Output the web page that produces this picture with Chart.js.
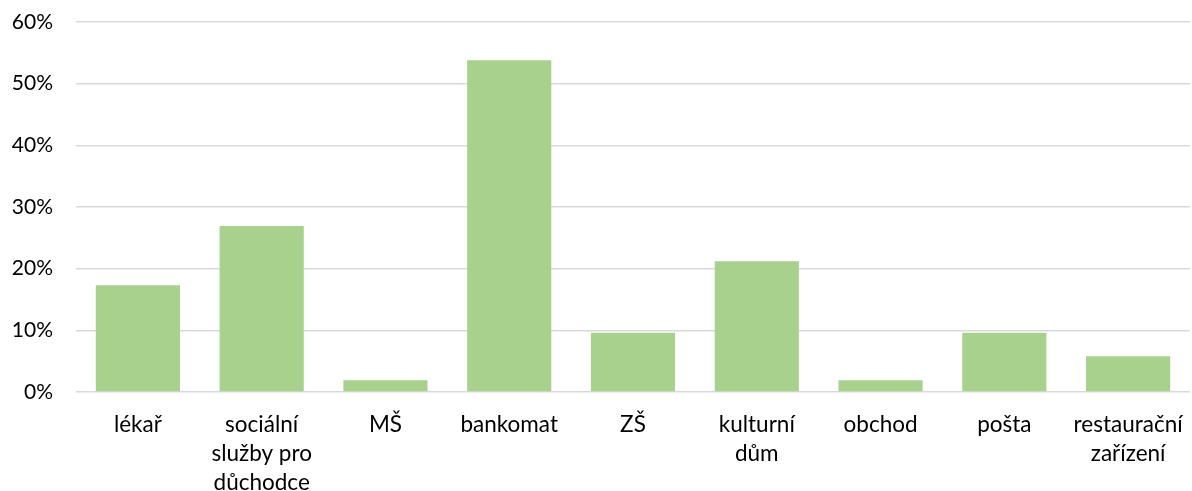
<!DOCTYPE html>
<html>
<head>
<meta charset="utf-8">
<script src="https://cdn.jsdelivr.net/npm/chart.js"></script>
<style>
  html, body { margin: 0; padding: 0; background: #fff; }
  #wrap { width: 1192px; height: 491px; }
</style>
</head>
<body>
<div id="wrap"><canvas id="chart" width="1192" height="491"></canvas></div>
<script>
// data (percent)
const categories = [
  'lékař',
  ['sociální', 'služby pro', 'důchodce'],
  'MŠ',
  'bankomat',
  'ZŠ',
  ['kulturní', 'dům'],
  'obchod',
  'pošta',
  ['restaurační', 'zařízení']
];
const shares = [17.3, 26.9, 1.9, 53.8, 9.6, 21.2, 1.9, 9.6, 5.8];
const yTicks = [0, 10, 20, 30, 40, 50, 60];

const family = 'Lato, Carlito, "Open Sans", sans-serif';

const ctx = document.getElementById('chart').getContext('2d');
new Chart(ctx, {
  type: 'bar',
  data: {
    labels: categories,
    datasets: [{
      data: shares,
      backgroundColor: '#A9D18E',
      borderWidth: 0,
      barPercentage: 0.68,
      categoryPercentage: 1
    }]
  },
  options: {
    responsive: false,
    animation: false,
    layout: { padding: { top: 22, right: 2, bottom: 0, left: 0 } },
    plugins: { legend: { display: false }, tooltip: { enabled: false } },
    scales: {
      x: {
        afterFit: (axis) => {
          axis.height = 99;
          axis.paddingLeft = 0;
          axis.paddingRight = 0;
        },
        grid: { display: false, drawTicks: false },
        border: { display: false },
        ticks: {
          color: '#000',
          font: { family, size: 22.5, lineHeight: 1.29 },
          padding: 18,
          maxRotation: 0,
          autoSkip: false
        }
      },
      y: {
        min: 0,
        max: 60,
        afterFit: (axis) => {
          axis.width = 76;
          axis.paddingTop = 0;
          axis.paddingBottom = 0;
        },
        afterBuildTicks: (axis) => { axis.ticks = yTicks.map(v => ({ value: v })); },
        grid: { color: '#D9D9D9', lineWidth: 1.5, drawTicks: false },
        border: { display: false },
        ticks: {
          color: '#000',
          font: { family, size: 21 },
          padding: 23,
          callback: (v) => v + '%'
        }
      }
    }
  }
});
</script>
</body>
</html>
